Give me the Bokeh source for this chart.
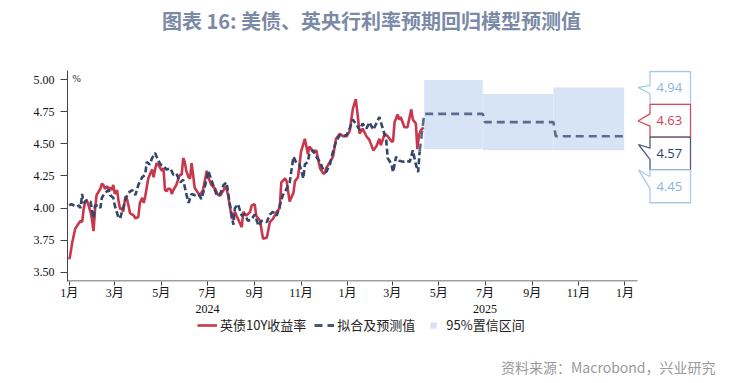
import pandas as pd
from bokeh.plotting import figure
from bokeh.layouts import column
from bokeh.models import (Range1d, FixedTicker, CustomJSTickFormatter, PrintfTickFormatter, DatetimeAxis,
                          Label, Legend, LegendItem, ColumnDataSource)
from bokeh.embed import file_html
from bokeh.resources import INLINE

# ---------------- data ----------------
uk_dates = [
    "2024-01-01", "2024-01-02", "2024-01-05", "2024-01-09", "2024-01-13", "2024-01-16", "2024-01-18",
    "2024-01-20", "2024-01-22", "2024-01-24", "2024-01-26", "2024-01-29", "2024-01-31", "2024-02-02",
    "2024-02-04", "2024-02-06", "2024-02-11", "2024-02-13", "2024-02-15", "2024-02-17", "2024-02-20",
    "2024-02-22", "2024-02-24", "2024-02-26", "2024-02-28", "2024-03-01", "2024-03-04", "2024-03-06",
    "2024-03-08", "2024-03-10", "2024-03-12", "2024-03-15", "2024-03-17", "2024-03-19", "2024-03-21",
    "2024-03-26", "2024-03-28", "2024-04-01", "2024-04-03", "2024-04-06", "2024-04-08", "2024-04-10",
    "2024-04-12", "2024-04-14", "2024-04-16", "2024-04-19", "2024-04-21", "2024-04-23", "2024-04-25",
    "2024-04-27", "2024-04-30", "2024-05-02", "2024-05-04", "2024-05-06", "2024-05-08", "2024-05-10",
    "2024-05-13", "2024-05-15", "2024-05-17", "2024-05-19", "2024-05-21", "2024-05-24", "2024-05-26",
    "2024-05-28", "2024-05-30", "2024-06-01", "2024-06-03", "2024-06-06", "2024-06-08", "2024-06-10",
    "2024-06-12", "2024-06-14", "2024-06-17", "2024-06-21", "2024-06-25", "2024-06-30", "2024-07-02",
    "2024-07-06", "2024-07-11", "2024-07-15", "2024-07-18", "2024-07-22", "2024-07-25", "2024-07-28",
    "2024-08-02", "2024-08-06", "2024-08-10", "2024-08-15", "2024-08-17", "2024-08-21", "2024-08-26",
    "2024-08-28", "2024-09-01", "2024-09-03", "2024-09-08", "2024-09-12", "2024-09-17", "2024-09-21",
    "2024-09-25", "2024-09-30", "2024-10-04", "2024-10-06", "2024-10-11", "2024-10-13", "2024-10-17",
    "2024-10-22", "2024-10-24", "2024-10-28", "2024-11-01", "2024-11-06", "2024-11-10", "2024-11-12",
    "2024-11-17", "2024-11-21", "2024-11-26", "2024-11-30", "2024-12-02", "2024-12-04", "2024-12-09",
    "2024-12-13", "2024-12-17", "2024-12-22", "2024-12-26", "2024-12-31", "2025-01-04", "2025-01-08",
    "2025-01-12", "2025-01-15", "2025-01-17", "2025-01-21", "2025-01-26", "2025-01-30", "2025-02-04",
    "2025-02-08", "2025-02-12", "2025-02-14", "2025-02-19", "2025-02-23", "2025-02-28", "2025-03-02",
    "2025-03-04", "2025-03-08", "2025-03-10", "2025-03-12", "2025-03-17", "2025-03-21", "2025-03-26",
    "2025-03-28", "2025-04-01", "2025-04-03", "2025-04-05", "2025-04-08", "2025-04-11",
]
uk_vals = [
    3.60, 3.62, 3.73, 3.84, 3.875, 3.90, 3.89,
    3.99, 4.05, 4.06, 4.03, 3.97, 3.91, 3.82,
    3.99, 4.10, 4.15, 4.19, 4.18, 4.15, 4.17,
    4.14, 4.16, 4.14, 4.18, 4.11, 4.14, 4.05,
    3.99, 4.00, 3.97, 4.09, 4.07, 4.02, 3.96,
    3.94, 3.92, 3.93, 4.04, 4.08, 4.04, 4.09,
    4.16, 4.23, 4.26, 4.30, 4.24, 4.30, 4.35,
    4.34, 4.31, 4.29, 4.31, 4.14, 4.13, 4.15,
    4.15, 4.11, 4.14, 4.16, 4.18, 4.24, 4.26,
    4.26, 4.39, 4.36, 4.29, 4.24, 4.23, 4.35,
    4.26, 4.16, 4.13, 4.10, 4.14, 4.29, 4.24,
    4.18, 4.15, 4.10, 4.10, 4.14, 4.17, 4.10,
    3.915, 3.97, 3.915, 3.85, 3.97, 3.94, 3.97,
    4.02, 4.03, 3.94, 3.90, 3.76, 3.77, 3.89,
    3.915, 3.97, 4.00, 4.20, 4.23, 4.21, 4.05,
    4.12, 4.21, 4.24, 4.44, 4.54, 4.42, 4.48,
    4.44, 4.45, 4.31, 4.27, 4.27, 4.31, 4.36,
    4.40, 4.54, 4.58, 4.56, 4.56, 4.60, 4.77,
    4.85, 4.70, 4.58, 4.62, 4.56, 4.53, 4.45,
    4.48, 4.54, 4.49, 4.58, 4.56, 4.52, 4.52,
    4.67, 4.73, 4.69, 4.71, 4.63, 4.63, 4.77,
    4.69, 4.66, 4.46, 4.57, 4.61, 4.63,
]

fit_dates = [
    "2024-01-01", "2024-01-04", "2024-01-07", "2024-01-11", "2024-01-14", "2024-01-16", "2024-01-18",
    "2024-01-20", "2024-01-24", "2024-01-29", "2024-02-02", "2024-02-04", "2024-02-09", "2024-02-11",
    "2024-02-13", "2024-02-17", "2024-02-22", "2024-02-24", "2024-02-28", "2024-03-01", "2024-03-06",
    "2024-03-08", "2024-03-12", "2024-03-15", "2024-03-19", "2024-03-24", "2024-03-28", "2024-04-01",
    "2024-04-06", "2024-04-10", "2024-04-12", "2024-04-16", "2024-04-19", "2024-04-23", "2024-04-25",
    "2024-04-30", "2024-05-04", "2024-05-08", "2024-05-13", "2024-05-17", "2024-05-21", "2024-05-26",
    "2024-05-30", "2024-06-03", "2024-06-06", "2024-06-10", "2024-06-14", "2024-06-19", "2024-06-23",
    "2024-06-28", "2024-07-02", "2024-07-06", "2024-07-13", "2024-07-17", "2024-07-22", "2024-07-26",
    "2024-07-30", "2024-08-04", "2024-08-06", "2024-08-10", "2024-08-15", "2024-08-19", "2024-08-23",
    "2024-08-28", "2024-09-01", "2024-09-06", "2024-09-10", "2024-09-17", "2024-09-21", "2024-09-25",
    "2024-09-30", "2024-10-04", "2024-10-08", "2024-10-13", "2024-10-17", "2024-10-22", "2024-10-26",
    "2024-10-30", "2024-11-04", "2024-11-06", "2024-11-10", "2024-11-12", "2024-11-17", "2024-11-21",
    "2024-11-26", "2024-11-30", "2024-12-04", "2024-12-09", "2024-12-13", "2024-12-17", "2024-12-22",
    "2024-12-26", "2024-12-31", "2025-01-04", "2025-01-08", "2025-01-13", "2025-01-17", "2025-01-21",
    "2025-01-26", "2025-01-30", "2025-02-04", "2025-02-08", "2025-02-12", "2025-02-17", "2025-02-21",
    "2025-02-23", "2025-02-28", "2025-03-02", "2025-03-06", "2025-03-10", "2025-03-15", "2025-03-19",
    "2025-03-24", "2025-03-28", "2025-04-01", "2025-04-04", "2025-04-06",
]
fit_vals = [
    4.02, 4.03, 4.02, 4.01, 4.02, 4.00, 4.11,
    4.04, 4.06, 4.05, 3.92, 4.02, 4.02, 4.00,
    4.08, 4.12, 4.14, 4.10, 4.08, 4.02, 3.92,
    3.92, 4.00, 4.07, 4.12, 4.14, 4.10, 4.18,
    4.24, 4.26, 4.36, 4.34, 4.39, 4.43, 4.40,
    4.34, 4.33, 4.30, 4.31, 4.26, 4.27, 4.20,
    4.22, 4.11, 4.04, 4.11, 4.10, 4.11, 4.07,
    4.18, 4.29, 4.22, 4.10, 4.10, 4.18, 4.20,
    4.04, 3.87, 4.00, 4.03, 3.94, 3.95, 3.90,
    3.91, 3.95, 3.86, 3.90, 3.89, 3.95, 3.97,
    3.94, 4.02, 4.10, 4.15, 4.20, 4.40, 4.35,
    4.34, 4.23, 4.34, 4.36, 4.43, 4.45, 4.40,
    4.36, 4.30, 4.28, 4.34, 4.44, 4.52, 4.57,
    4.56, 4.57, 4.62, 4.69, 4.65, 4.61, 4.66,
    4.62, 4.67, 4.61, 4.66, 4.71, 4.61, 4.53,
    4.39, 4.34, 4.28, 4.40, 4.37, 4.36, 4.37,
    4.36, 4.45, 4.34, 4.28, 4.44,
]

fc_dates = ["2025-04-06", "2025-04-12", "2025-06-28", "2025-07-01", "2025-09-29", "2025-10-02", "2025-12-31"]
fc_vals = [4.44, 4.735, 4.735, 4.67, 4.67, 4.56, 4.56]

band_start = ["2025-04-12", "2025-06-28", "2025-09-29"]
band_end = ["2025-06-28", "2025-09-29", "2025-12-31"]
band_upper = [5.00, 4.89, 4.94]
band_lower = [4.46, 4.45, 4.45]

month_ticks = ["2024-01-01", "2024-03-01", "2024-05-01", "2024-07-01", "2024-09-01", "2024-11-01",
               "2025-01-01", "2025-03-01", "2025-05-01", "2025-07-01", "2025-09-01", "2025-11-01",
               "2026-01-01"]
year_ticks = ["2024-07-01", "2025-07-01"]
y_ticks = [3.50, 3.75, 4.00, 4.25, 4.50, 4.75, 5.00]

end_labels = ["4.94", "4.63", "4.57", "4.45"]

title_text = "图表 16: 美债、英央行利率预期回归模型预测值"
source_text = "资料来源：Macrobond，兴业研究"
legend_labels = ["英债10Y收益率", "拟合及预测值", "95%置信区间"]

# ---------------- style ----------------
RED = "#c9374c"
NAVY = "#34466a"
NAVY2 = "#5a6b8f"
BAND = "#d6e4f5"
AXIS = "#444444"
SERIF = "Liberation Serif, Noto Sans CJK SC"
SANS = "Noto Sans CJK SC"
W = 752


def ms(s):
    return (pd.Timestamp(s) - pd.Timestamp("1970-01-01")) / pd.Timedelta(milliseconds=1)


# page pixel geometry
TOP_H = 60
FL, FR, FT, FB = 67, 745, 70, 279
AX_END = 637
PX_PER_DAY = 0.7602
JAN1_PX = 68.7
jan1 = pd.Timestamp("2024-01-01")
x_start = jan1 + pd.Timedelta(days=(FL - JAN1_PX) / PX_PER_DAY)
x_end = jan1 + pd.Timedelta(days=(FR - JAN1_PX) / PX_PER_DAY)
Y_PER_UNIT = 126.9
Y500 = 79.3
y_top = 5.00 + (Y500 - FT) / Y_PER_UNIT
y_bot = 5.00 - (FB - Y500) / Y_PER_UNIT


def bare(fig):
    fig.outline_line_color = None
    fig.background_fill_color = "white"
    fig.border_fill_color = "white"
    return fig


def strip(h, top):
    # helper figure whose frame spans the same columns as the main chart; data coords = page pixels
    f = bare(figure(width=W, height=h, x_range=Range1d(FL, FR), y_range=Range1d(top + h, top),
                    x_axis_location=None, y_axis_location=None,
                    min_border_left=FL, min_border_right=W - FR, min_border_top=0, min_border_bottom=0,
                    output_backend="svg", toolbar_location=None, title=None))
    f.grid.visible = False
    return f


# ---------------- title strip ----------------
pt = strip(TOP_H, 0)
pt.add_layout(Label(x=371, y=20, text=title_text, text_align="center", text_baseline="middle",
                    text_font=SANS, text_font_style="bold", text_font_size="20px", text_color="#7b8aa6"))

# ---------------- main chart ----------------
AXES_H = 36
MAIN_H = (FT - TOP_H) + (FB - FT) + AXES_H
p = bare(figure(width=W, height=MAIN_H, x_axis_type="datetime",
                x_range=Range1d(ms(x_start), ms(x_end)), y_range=Range1d(y_bot, y_top),
                output_backend="svg", toolbar_location=None, title=None,
                min_border_left=FL, min_border_right=W - FR,
                min_border_top=FT - TOP_H, min_border_bottom=0))
p.extra_x_ranges = {"px": Range1d(FL, FR)}
p.extra_y_ranges = {"py": Range1d(FB, FT)}
p.xgrid.visible = False
p.ygrid.visible = False

band_src = ColumnDataSource(dict(left=[ms(d) for d in band_start], right=[ms(d) for d in band_end],
                                 top=band_upper, bottom=band_lower))
p.quad(left="left", right="right", top="top", bottom="bottom", source=band_src,
       fill_color=BAND, line_color=None)

p.line([ms(d) for d in uk_dates], uk_vals, color=RED, line_width=2.6)
p.line([ms(d) for d in fit_dates], fit_vals, color=NAVY, line_width=2.6, line_dash="6 3")
p.line([ms(d) for d in fc_dates], fc_vals, color=NAVY2, line_width=2.6, line_dash="8 5")

# x axis line stops at mid-January 2026 as in the original
p.segment(x0=[FL], y0=[FB - 0.5], x1=[AX_END], y1=[FB - 0.5], x_range_name="px", y_range_name="py",
          line_color=AXIS, line_width=1)

xa = p.xaxis[0]
xa.ticker = FixedTicker(ticks=[ms(d) for d in month_ticks])
xa.formatter = CustomJSTickFormatter(code="const d = new Date(tick); return (d.getUTCMonth() + 1) + '月';")
xa.major_tick_out = 4
xa.major_tick_in = 0
xa.minor_tick_out = 0
xa.minor_tick_in = 0
xa.axis_line_color = None
xa.major_tick_line_color = AXIS
xa.major_label_standoff = 0
xa.major_label_text_font = SERIF
xa.major_label_text_font_size = "12px"
xa.major_label_text_color = "#111111"

xa2 = DatetimeAxis(ticker=FixedTicker(ticks=[ms(d) for d in year_ticks]),
                   formatter=CustomJSTickFormatter(code="return String(new Date(tick).getUTCFullYear());"),
                   axis_line_color=None, major_tick_line_color=None, minor_tick_line_color=None,
                   major_tick_out=0, major_tick_in=0, minor_tick_out=0, minor_tick_in=0,
                   major_label_standoff=2, major_label_text_font=SERIF,
                   major_label_text_font_size="12px", major_label_text_color="#111111")
p.add_layout(xa2, "below")

ya = p.yaxis[0]
ya.ticker = FixedTicker(ticks=y_ticks)
ya.formatter = PrintfTickFormatter(format="%.2f")
ya.major_tick_out = 7
ya.major_tick_in = 0
ya.minor_tick_out = 0
ya.minor_tick_in = 0
ya.axis_line_color = AXIS
ya.major_tick_line_color = AXIS
ya.major_label_standoff = 6
ya.major_label_text_font = SERIF
ya.major_label_text_font_size = "12px"
ya.major_label_text_color = "#111111"

p.add_layout(Label(x=72, y=78, x_range_name="px", y_range_name="py", text="%",
                   text_baseline="middle", text_font=SERIF, text_font_size="10px", text_color="#222222"))

# end-value callout boxes (page-pixel coordinates via the "px"/"py" ranges)
LB, RB = 649.5, 690
box_edges = [71, 103.5, 136, 168.5, 201]
pointers = [((85, 93), (637.5, 86.7)), ((113, 125), (637.5, 120)),
            ((147, 158), (638, 143.3)), ((175, 187), (638, 168.5))]
box_line = ["#a9c8e9", "#d24a5e", "#4d5a78", "#a9c8e9"]
box_text = ["#8db3de", "#d33f56", "#2f4373", "#8db3de"]
for i, t in enumerate(end_labels):
    top, bot = box_edges[i], box_edges[i + 1]
    (b1, b2), (tx, ty) = pointers[i]
    xs = [LB, RB, RB, LB, LB, tx, LB]
    ys = [top, top, bot, bot, b2, ty, b1]
    p.patch(x=xs, y=ys, x_range_name="px", y_range_name="py",
            fill_color="white", fill_alpha=1.0, line_color=box_line[i], line_width=1.3)
    p.add_layout(Label(x=656, y=(top + bot) / 2, x_range_name="px", y_range_name="py", text=t,
                       text_baseline="middle", text_font="Open Sans", text_font_size="13px",
                       text_color=box_text[i]))

# ---------------- legend + source strip ----------------
BOT_TOP = FB + AXES_H
BOT_H = 378 - BOT_TOP
pb = strip(BOT_H, BOT_TOP)
# legend sample glyphs: tiny data placed outside the visible strip
OFF = [0, 1]
l_red = pb.line(x=OFF, y=[0, 0], color=RED, line_width=2.6)
l_dash = pb.line(x=OFF, y=[0, 0], color="#4a5672", line_width=3, line_dash="8 5")
l_sq = pb.scatter(x=[0], y=[0], marker="square", size=10, fill_color=BAND, line_color=None)
LEG_CY = 326
legend = Legend(items=[LegendItem(label=legend_labels[0], renderers=[l_red]),
                       LegendItem(label=legend_labels[1], renderers=[l_dash]),
                       LegendItem(label=legend_labels[2], renderers=[l_sq])],
                orientation="horizontal", location=(197 - FL, (BOT_TOP + BOT_H) - (LEG_CY + 8)),
                padding=0, margin=0,
                spacing=8, glyph_width=20, glyph_height=16, label_height=16, label_standoff=3,
                label_text_font=SANS, label_text_font_size="13px", label_text_color="#222222",
                border_line_color=None, background_fill_alpha=0)
pb.add_layout(legend, "center")
pb.add_layout(Label(x=715, y=366, text=source_text, text_align="right", text_baseline="middle",
                    text_font=SANS, text_font_size="14px", text_color="#9a9a9a"))

layout = column(pt, p, pb, spacing=0)
open("out.html", "w").write(file_html(layout, INLINE))
